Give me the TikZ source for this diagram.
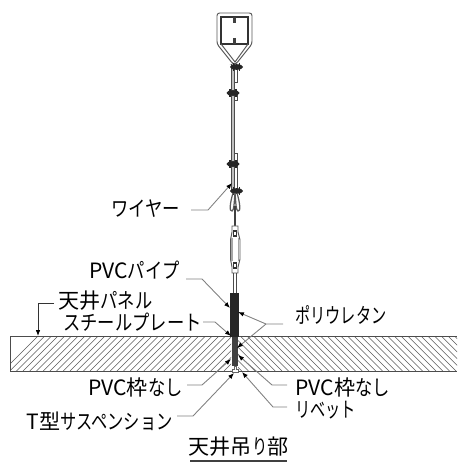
\documentclass[tikz,border=0pt]{standalone}
\usepackage{fontspec}
\setmainfont{Noto Sans CJK JP}
\newfontfamily\kana[FakeStretch=0.82]{Noto Sans CJK JP}
\newfontfamily\kanb[FakeStretch=0.72]{Noto Sans CJK JP}
\newfontfamily\kanc[FakeStretch=0.77]{Noto Sans CJK JP}
\usetikzlibrary{arrows.meta}
\tikzset{
  leader/.style={draw=black!50,line width=0.5pt,-{Latex[black,length=3.4pt,width=2.6pt]}},
  rodline/.style={draw=black!70,line width=0.55pt},
  hatchline/.style={draw=black!65,line width=0.3pt},
  label/.style={font=\fontsize{12pt}{12pt}\selectfont,inner sep=0pt,text=black}
}
\begin{document}
\begin{tikzpicture}[x=0.2mm,y=-0.2mm]
   \useasboundingbox (0,0) rectangle (457,463);
   % hanger
   \draw[black!65,line width=0.55pt,rounded corners=1.5] (217,44) -- (217,13) -- (252,13) -- (252,44) -- (236,64) -- (233,64) -- cycle;
   \draw[black!80,line width=1pt] (221,44) -- (221,17) -- (248,17) -- (248,44) -- cycle;
   \draw[black!65,line width=0.55pt] (221,44) -- (235,62) -- (248,44);
   \draw[black!75,line width=1.4pt] (234.5,17) -- (234.5,23);
   \draw[black!75,line width=1.4pt] (234.5,38) -- (234.5,44);
   % wire
   \draw[rodline] (231.5,64) -- (231.5,190);
   \draw[rodline] (234.5,64) -- (234.5,190);
   \draw[black!25,line width=0.8pt] (233,64) -- (233,190);
   \draw[rodline] (234.5,67) -- (237,67) -- (237,82) -- (234.5,82);
   \draw[rodline] (234.5,93) -- (237,93) -- (237,100) -- (234.5,100);
   \draw[rodline] (234.5,153) -- (237,153) -- (237,190);
   \foreach \cx/\cy in {236.5/67,233/93,233/164,236.5/191}{
      \fill[black!85] (\cx,\cy) ellipse (6.5 and 2.8);
      \draw[black!85,line width=0.7pt] (\cx-3,\cy-4) -- (\cx-3,\cy+4);
      \draw[black!85,line width=0.7pt] (\cx+3,\cy-4) -- (\cx+3,\cy+4);
   }
   % thimble
   \draw[black!65,line width=0.7pt] (233,193) .. controls (230,203) and (229,212) .. (232,211) .. controls (234,210) and (234,205) .. (235,193);
   \draw[black!65,line width=0.7pt] (237,193) .. controls (240,203) and (241,212) .. (238,211) .. controls (236,210) and (236,205) .. (235,193);
   \draw[black!75,line width=1.1pt] (235,206) -- (235,226);
   % turnbuckle
   \draw[black!65,line width=0.55pt,fill=white] (232,226) -- (238,226) -- (238,232) -- (240,240) -- (240,259) -- (238,267) -- (238,273) -- (232,273) -- (232,267) -- (230.5,259) -- (230.5,240) -- (232,232) -- cycle;
   \draw[black!35,line width=0.9pt] (232,238) -- (232,261);
   \draw[black!35,line width=0.9pt] (238.5,238) -- (238.5,261);
   \draw[black!80,line width=0.7pt] (233.5,231) rectangle (236.5,236);
   \draw[black!80,line width=0.7pt] (233.5,263) rectangle (236.5,268);
   \draw[rodline] (233.4,273) -- (233.4,293);
   \draw[rodline] (236.6,273) -- (236.6,293);
   % ceiling panel
   \begin{scope}
      \clip (10,336) rectangle (231,371);
      \foreach \hx in {10,16.7,...,270}{
         \draw[hatchline] (\hx-7,371) -- (\hx+28,336);
      }
   \end{scope}
   \begin{scope}
      \clip (238,336) rectangle (457,371);
      \foreach \hx in {200,206.7,...,460}{
         \draw[hatchline] (\hx,336) -- (\hx+35,371);
      }
   \end{scope}
   \draw[black!70,line width=0.5pt] (10,336) -- (457,336);
   \draw[black!70,line width=0.5pt] (10,371.5) -- (457,371.5);
   \draw[black!70,line width=0.5pt] (10,336) -- (10,371.5);
   % pipe
   \fill[black!85] (230.3,293) rectangle (239.3,337);
   \fill[black!75] (232,337) rectangle (238,366);
   \draw[black!60,line width=0.5pt,fill=white] (232.5,372) -- (232.5,369) -- (234,369) -- (234,366.5) -- (236.5,366.5) -- (236.5,369) -- (238,369) -- (238,372) -- cycle;
   % labels
   \node[label,anchor=east] (wire) at (180,209) {\kana ワイヤー};
   \node[label,anchor=east] (pipe) at (180,270) {PVC{\kana パイプ}};
   \node[label,anchor=west] (panel) at (58,301) {天井{\kana パネル}};
   \node[label,anchor=east] (plate) at (202,322) {\kana スチールプレート};
   \node[label,anchor=west] (foam) at (295,315) {\kanb ポリウレタン};
   \node[label,anchor=east] (pvcl) at (183,387) {PVC枠{\kana なし}};
   \node[label,anchor=east] (tbar) at (173,421) {T型{\kanc サスペンション}};
   \node[label,anchor=west] (pvcr) at (295,387) {PVC枠{\kana なし}};
   \node[label,anchor=west] (rivet) at (295,410) {\kanb リベット};
   \node[label,anchor=center] (title) at (238.5,447) {天井吊{\kanb り}部};
   \draw[black!75,line width=1pt] (190,461) -- (287,461);
   % leaders
   \coordinate (wirea) at (191,210);
   \coordinate (wireb) at (208,210);
   \coordinate (wiret) at (232,183);
   \draw[leader] (wirea) -- (wireb) -- (wiret);
   \coordinate (pipea) at (186,279);
   \coordinate (pipeb) at (202,279);
   \coordinate (pipet) at (230,308);
   \draw[leader] (pipea) -- (pipeb) -- (pipet);
   \coordinate (panela) at (54,303);
   \coordinate (panelb) at (38,303);
   \coordinate (panelt) at (38,336);
   \draw[leader,draw=black!80] (panela) -- (panelb) -- (panelt);
   \coordinate (platea) at (203,322);
   \coordinate (plateb) at (215,322);
   \coordinate (platet) at (231,336);
   \draw[leader] (platea) -- (plateb) -- (platet);
   \coordinate (foama) at (283,324);
   \coordinate (foamb) at (266,324);
   \coordinate (foamt) at (238,312);
   \coordinate (foams) at (237,348);
   \draw[leader] (foama) -- (foamb) -- (foamt);
   \draw[leader] (foamb) -- (foams);
   \coordinate (pvcla) at (187,385);
   \coordinate (pvclb) at (202,385);
   \coordinate (pvclt) at (231,359);
   \draw[leader] (pvcla) -- (pvclb) -- (pvclt);
   \coordinate (tbara) at (177,416);
   \coordinate (tbarb) at (193,416);
   \coordinate (tbart) at (234,373);
   \draw[leader] (tbara) -- (tbarb) -- (tbart);
   \coordinate (pvcra) at (287,385);
   \coordinate (pvcrb) at (272,385);
   \coordinate (pvcrt) at (238,355);
   \draw[leader] (pvcra) -- (pvcrb) -- (pvcrt);
   \coordinate (riveta) at (287,407);
   \coordinate (rivetb) at (273,407);
   \coordinate (rivett) at (242,372);
   \draw[leader] (riveta) -- (rivetb) -- (rivett);
\end{tikzpicture}
\end{document}
